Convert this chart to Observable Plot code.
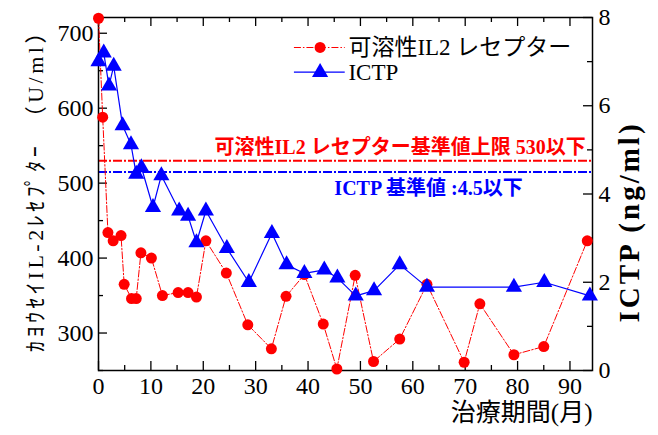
<!DOCTYPE html>
<html>
<head>
<meta charset="utf-8">
<script src="https://cdn.jsdelivr.net/npm/d3@7"></script>
<script src="https://cdn.jsdelivr.net/npm/@observablehq/plot@0.6"></script>
<style>
  html, body { margin: 0; padding: 0; background: #fff; }
</style>
</head>
<body>
<div id="chart"></div>
<script>
// ---- data ----
const il2Months = [0, 0.8, 1.8, 2.8, 4.3, 4.9, 6.3, 7.2, 8.1, 10.1, 12.2, 15.2, 17.1, 18.7, 20.5, 24.4, 28.5, 33.0, 35.8, 39.3, 42.9, 45.5, 49.0, 52.5, 57.5, 62.7, 69.8, 72.8, 79.3, 85.0, 93.3];
const il2Values = [720, 588, 434, 423, 430, 365, 346, 346, 407, 400, 350, 354, 354, 348, 423, 380, 311, 279, 349, 378, 312, 252, 377, 262, 292, 365, 261, 339, 271, 282, 423];
const ictpMonths = [0, 1.0, 2.0, 2.9, 4.6, 6.2, 7.2, 8.2, 10.4, 12.0, 15.4, 17.1, 18.7, 20.5, 24.5, 28.7, 33.1, 35.9, 39.3, 43.1, 45.6, 49.1, 52.6, 57.5, 62.7, 79.3, 85.1, 93.8];
const ictpValues = [7.0, 7.2, 6.45, 6.9, 5.55, 5.12, 4.45, 4.6, 3.7, 4.42, 3.62, 3.5, 2.9, 3.62, 2.77, 2.0, 3.11, 2.4, 2.2, 2.28, 2.1, 1.69, 1.81, 2.4, 1.89, 1.89, 2.0, 1.69];
const xTicks = [0, 10, 20, 30, 40, 50, 60, 70, 80, 90];
const xMinorTicks = [5, 15, 25, 35, 45, 55, 65, 75, 85];
const leftTicks = [300, 400, 500, 600, 700];
const leftMinorTicks = [250, 350, 450, 550, 650];
const rightTicks = [0, 2, 4, 6, 8];
const rightMinorTicks = [1, 3, 5, 7];
const il2Limit = 530;
const ictpLimit = 4.5;
const seriesNames = ["可溶性IL2 レセプター", "ICTP"];
const il2LimitLabel = "可溶性IL2 レセプター基準値上限 530以下";
const ictpLimitLabel = "ICTP 基準値 :4.5以下";
const xTitle = "治療期間(月)";
const leftTitle = "ｶﾖｳｾｲIL-2ﾚｾﾌﾟﾀｰ　（U/ml）";
const rightTitle = "ICTP (ng/ml)";

// ---- scales ----
const leftDomain = [250, 721];
const rightDomain = [0, 8];
const toLeft = v => leftDomain[0] + (v - rightDomain[0]) * (leftDomain[1] - leftDomain[0]) / (rightDomain[1] - rightDomain[0]);
const fromLeft = v => rightDomain[0] + (v - leftDomain[0]) * (rightDomain[1] - rightDomain[0]) / (leftDomain[1] - leftDomain[0]);

const il2 = il2Months.map((m, i) => ({m, v: il2Values[i]}));
const ictp = ictpMonths.map((m, i) => ({m, v: toLeft(ictpValues[i])}));

const W = 658, H = 435;
const mt = 17, mr = 66, mb = 65, ml = 98;
const fw = W - ml - mr, fh = H - mt - mb;

const serif = "'Liberation Serif', 'Times New Roman', 'Noto Sans CJK JP', serif";
const RED = "#ff0000", BLUE = "#0000ff";
const dashDot = "7,2,1.5,2";

const legend = [
  {name: seriesNames[0], y: 681},
  {name: seriesNames[1], y: 648}
];

const chart = Plot.plot({
  width: W, height: H,
  marginTop: mt, marginRight: mr, marginBottom: mb, marginLeft: ml,
  style: {fontFamily: serif, fontSize: "24px", background: "#fff", color: "#000", overflow: "visible"},
  x: {domain: [0, 94.3], axis: null},
  y: {domain: leftDomain, axis: null},
  marks: [
    Plot.ruleY([il2Limit], {stroke: RED, strokeWidth: 2, strokeDasharray: "9,2,2,2"}),
    Plot.ruleY([toLeft(ictpLimit)], {stroke: BLUE, strokeWidth: 2, strokeDasharray: "9,2,2,2"}),
    Plot.tickX(xTicks, {x: d => d, insetTop: fh - 9, stroke: "#000", strokeWidth: 1.3}),
    Plot.tickX(xMinorTicks, {x: d => d, insetTop: fh - 5, stroke: "#000", strokeWidth: 1.3}),
    Plot.tickX(xTicks, {x: d => d, insetBottom: fh - 9, stroke: "#000", strokeWidth: 1.3}),
    Plot.tickX(xMinorTicks, {x: d => d, insetBottom: fh - 5, stroke: "#000", strokeWidth: 1.3}),
    Plot.tickY(leftTicks, {y: d => d, insetRight: fw - 9, stroke: "#000", strokeWidth: 1.3}),
    Plot.tickY(leftMinorTicks, {y: d => d, insetRight: fw - 5, stroke: "#000", strokeWidth: 1.3}),
    Plot.tickY(rightTicks.map(toLeft), {y: d => d, insetLeft: fw - 9, stroke: "#000", strokeWidth: 1.3}),
    Plot.tickY(rightMinorTicks.map(toLeft), {y: d => d, insetLeft: fw - 5, stroke: "#000", strokeWidth: 1.3}),
    Plot.frame({stroke: "#000", strokeWidth: 1.5}),
    Plot.axisX({ticks: xTicks, tickSize: 0, tickPadding: 6, fontSize: 24, label: null}),
    Plot.axisY({anchor: "left", ticks: leftTicks, tickSize: 0, tickPadding: 5, fontSize: 24, label: null}),
    Plot.axisY({anchor: "right", ticks: rightTicks.map(toLeft), tickFormat: d => Math.round(fromLeft(d)), tickSize: 0, tickPadding: 6, fontSize: 24, label: null}),
    Plot.line(il2, {x: "m", y: "v", stroke: RED, strokeWidth: 1, strokeDasharray: dashDot}),
    Plot.dot(il2, {x: "m", y: "v", r: 5.5, fill: RED, stroke: "none"}),
    Plot.line(ictp, {x: "m", y: "v", stroke: BLUE, strokeWidth: 1.2}),
    Plot.dot(ictp, {x: "m", y: "v", symbol: "triangle", r: 6, fill: BLUE, stroke: "none"}),
    Plot.text([il2LimitLabel], {x: 93, y: il2Limit, dy: -13, text: d => d, textAnchor: "end", fill: RED, fontWeight: "bold", fontSize: 20}),
    Plot.text([ictpLimitLabel], {x: 63, y: toLeft(ictpLimit), dy: 17, text: d => d, textAnchor: "middle", fill: BLUE, fontWeight: "bold", fontSize: 20}),
    // legend
    Plot.ruleY([legend[0]], {y: "y", x1: 37.4, x2: 47.1, stroke: RED, strokeWidth: 1.2, strokeDasharray: dashDot}),
    Plot.ruleY([legend[1]], {y: "y", x1: 37.4, x2: 47.1, stroke: BLUE, strokeWidth: 1.2}),
    Plot.dot([legend[0]], {x: 42.3, y: "y", symbol: "circle", r: 5.5, fill: RED, stroke: "none"}),
    Plot.dot([legend[1]], {x: 42.3, y: "y", symbol: "triangle", r: 6, fill: BLUE, stroke: "none"}),
    Plot.text(legend, {x: 47.7, y: "y", text: "name", textAnchor: "start", lineAnchor: "middle", fontSize: 23, fill: "#000"}),
    // titles
    Plot.text([xTitle], {frameAnchor: "bottom-right", dy: 42, text: d => d, textAnchor: "end", lineAnchor: "middle", fontSize: 25}),
    Plot.text([leftTitle], {frameAnchor: "left", dx: -63, dy: -9, rotate: -90, text: d => d, textAnchor: "middle", lineAnchor: "middle", fontSize: 22}),
    Plot.text([rightTitle], {frameAnchor: "right", dx: 37, dy: 28, rotate: -90, text: d => d, textAnchor: "middle", lineAnchor: "middle", fontWeight: "bold", fontSize: 29})
  ]
});
d3.select(chart).selectAll("text").filter(function() { return this.textContent === leftTitle; }).style("letter-spacing", "3.5px");
d3.select(chart).selectAll("text").filter(function() { return this.textContent === rightTitle; }).style("letter-spacing", "3px");
document.getElementById("chart").appendChild(chart);
</script>
</body>
</html>
